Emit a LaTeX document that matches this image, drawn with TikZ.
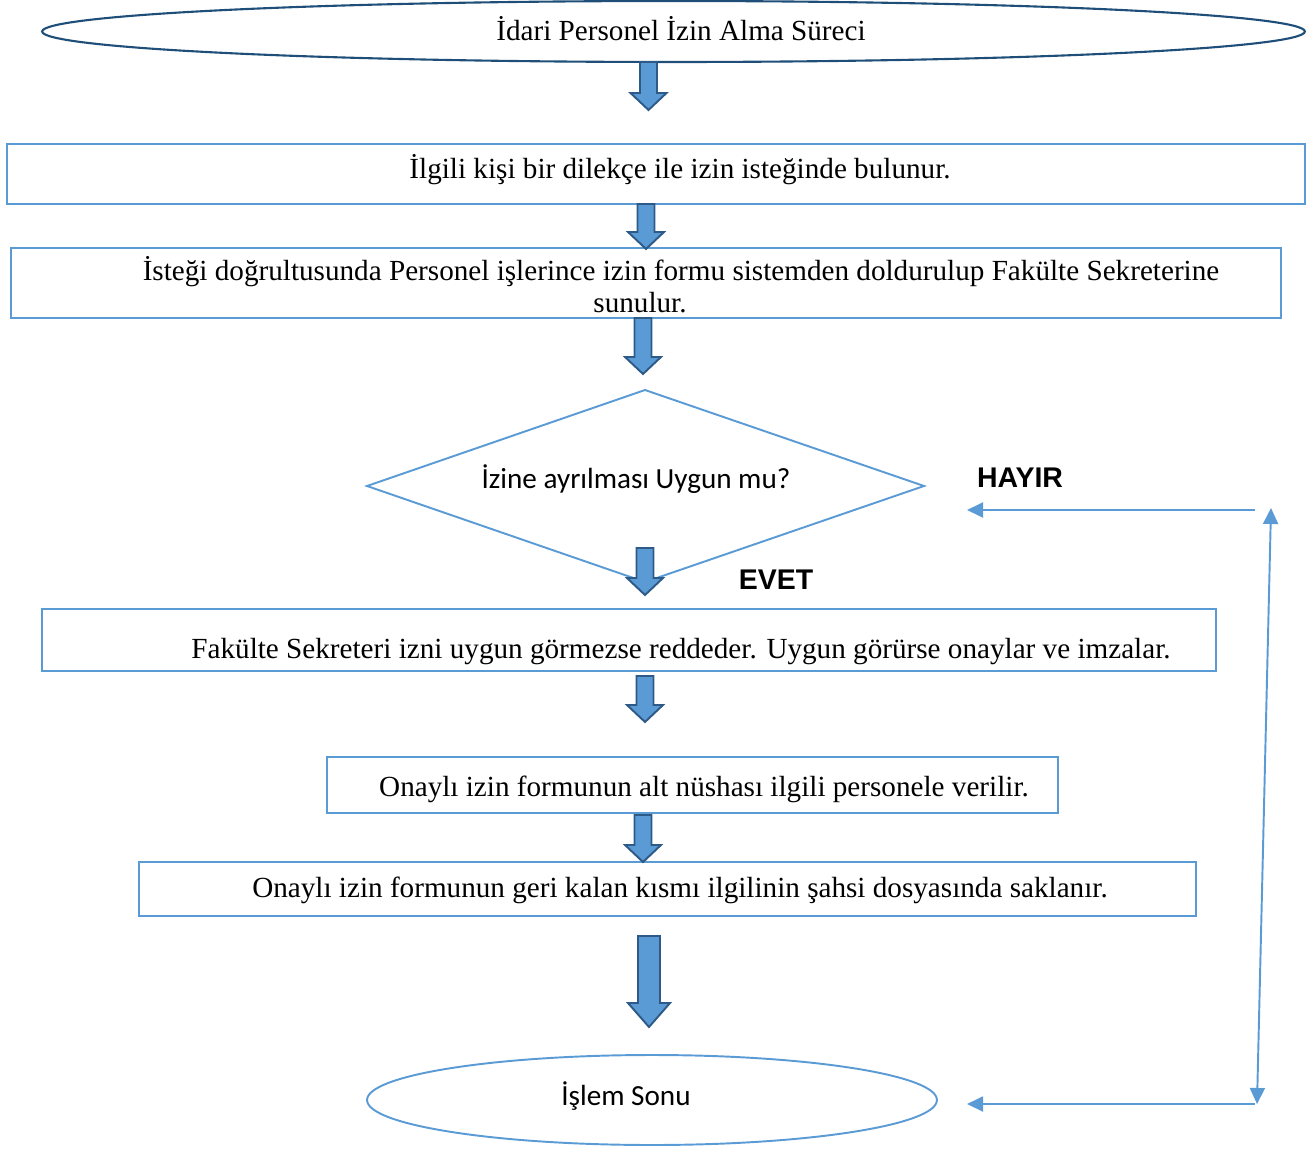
\documentclass[tikz,border=0pt]{standalone}
\usepackage{fontspec}
\setmainfont{Liberation Serif}
\newfontfamily\calibrifont{Carlito}
\newfontfamily\arialfont{Liberation Sans}
\usetikzlibrary{arrows.meta,shapes.geometric}

\definecolor{boxblue}{HTML}{5B9BD5}
\definecolor{navy}{HTML}{1F4E79}
\definecolor{arrowedge}{HTML}{2E5A88}

\tikzset{
  procbox/.style={draw=boxblue, line width=1.2pt, rectangle, inner sep=0pt},
  serif text/.style={font=\fontsize{16.6}{19}\selectfont, anchor=base, inner sep=0pt},
  sans text/.style={font=\calibrifont\fontsize{16.6}{19}\selectfont, anchor=base, inner sep=0pt},
  bold label/.style={font=\arialfont\bfseries\fontsize{16.2}{19}\selectfont, anchor=base, inner sep=0pt},
  barrow/.style={draw=arrowedge, fill=boxblue, line width=1.1pt, line join=miter},
  flowline/.style={draw=boxblue, line width=1.1pt},
  tipshape/.style={-{Triangle[length=3.2mm, width=3mm]}},
}

% block arrow: x, y top, y tip, shaft half width, head half width, head length
\newcommand\blockarrow[6]{%
  \draw[barrow] ({#1-#4},#2) -- ({#1+#4},#2) -- ({#1+#4},{#3-#6}) -- ({#1+#5},{#3-#6})
    -- (#1,#3) -- ({#1-#5},{#3-#6}) -- ({#1-#4},{#3-#6}) -- cycle;}

\begin{document}
\begin{tikzpicture}[x=0.02cm, y=-0.02cm]
\useasboundingbox (0,0) rectangle (1310,1148);

% start ellipse
\node[ellipse, draw=navy, line width=1.2pt, minimum width=25.26cm, minimum height=1.22cm, inner sep=0pt]
  (start) at (673.5,31.5) {};
\node[serif text] (starttxt) at (681,41) {İdari Personel İzin Alma Süreci};

% process boxes
\node[procbox, minimum width=25.96cm, minimum height=1.2cm] (b1) at (656,174) {};
\node[serif text] (t1) at (680,179) {İlgili kişi bir dilekçe ile izin isteğinde bulunur.};

\node[procbox, minimum width=25.4cm, minimum height=1.4cm] (b2) at (646,283) {};
\node[serif text] (t2a) at (681,281) {İsteği doğrultusunda Personel işlerince izin formu sistemden doldurulup Fakülte Sekreterine};
\node[serif text] (t2b) at (640,313) {sunulur.};

% decision
\coordinate (dtop) at (645,390);
\coordinate (dleft) at (367,486);
\coordinate (dright) at (924,486);
\coordinate (dbot) at (645,582);
\draw[flowline, line join=miter] (dtop) -- (dright) -- (dbot) -- (dleft) -- cycle;
\node[sans text] (dtxt) at (636,488) {İzine ayrılması Uygun mu?};
\node[bold label] (hayir) at (1020,487) {HAYIR};
\node[bold label] (evet) at (776,589) {EVET};

\node[procbox, minimum width=23.48cm, minimum height=1.24cm] (b3) at (629,640) {};
\node[serif text] (t3) at (681,658) {Fakülte Sekreteri izni uygun görmezse reddeder. Uygun görürse onaylar ve imzalar.};

\node[procbox, minimum width=14.62cm, minimum height=1.12cm] (b4) at (692.5,785) {};
\node[serif text] (t4) at (704,796) {Onaylı izin formunun alt nüshası ilgili personele verilir.};

\node[procbox, minimum width=21.14cm, minimum height=1.08cm] (b5) at (667.5,889) {};
\node[serif text] (t5) at (680,897) {Onaylı izin formunun geri kalan kısmı ilgilinin şahsi dosyasında saklanır.};

% end ellipse
\node[ellipse, draw=boxblue, line width=1.1pt, minimum width=11.4cm, minimum height=1.8cm, inner sep=0pt]
  (end) at (652,1100) {};
\node[sans text] (endtxt) at (626,1105) {İşlem Sonu};

% block arrows between the steps
\blockarrow{648.5}{62}{110}{8.5}{18}{17}
\blockarrow{646}{204}{249}{8.5}{18}{17}
\blockarrow{643}{318}{374}{8.5}{18}{17}
\blockarrow{645}{548}{595}{8.5}{18}{17}
\blockarrow{645}{676}{722}{8.5}{18}{17}
\blockarrow{643}{815}{862}{8.5}{18}{17}
\blockarrow{649}{936}{1027}{11}{21}{24}

% HAYIR return lines
\coordinate (hy1) at (1255,510);
\coordinate (hy1end) at (967,510);
\coordinate (vtop) at (1271,508);
\coordinate (vbot) at (1257,1104);
\coordinate (hy2) at (1255,1104);
\coordinate (hy2end) at (967,1104);
\draw[flowline, tipshape] (hy1) -- (hy1end);
\draw[flowline, {Triangle[length=3.2mm, width=3mm]}-{Triangle[length=3.2mm, width=3mm]}] (vbot) -- (vtop);
\draw[flowline, tipshape] (hy2) -- (hy2end);
\end{tikzpicture}
\end{document}
